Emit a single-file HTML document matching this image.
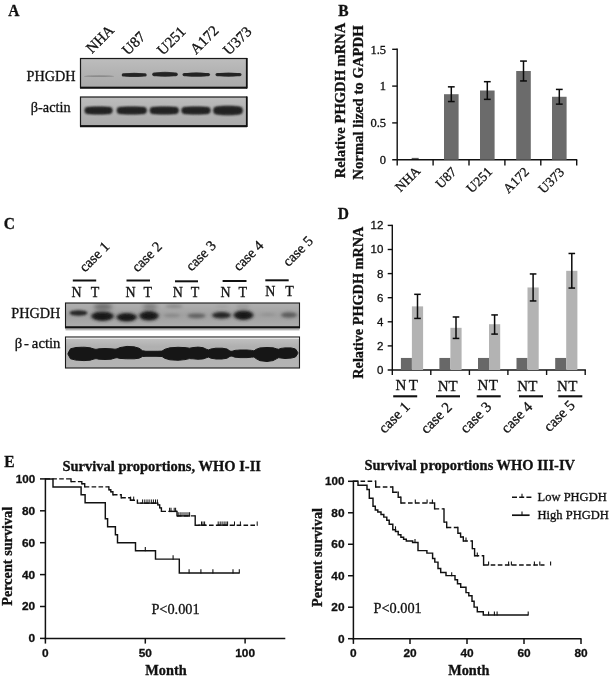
<!DOCTYPE html>
<html><head><meta charset="utf-8"><title>PHGDH figure</title>
<style>html,body{margin:0;padding:0;background:#fff}svg{display:block}.fs{font-family:"Liberation Serif", serif}.fa{font-family:"Liberation Sans", sans-serif}.b{font-weight:bold}text{fill:#111;stroke:#111;stroke-width:0.3px}</style></head><body>
<svg width="610" height="679" viewBox="0 0 610 679">
<defs>
<filter id="bl06" x="-20%" y="-60%" width="140%" height="220%"><feGaussianBlur stdDeviation="0.6"/></filter>
<filter id="bl09" x="-20%" y="-60%" width="140%" height="220%"><feGaussianBlur stdDeviation="0.9"/></filter>
<filter id="bl12" x="-20%" y="-60%" width="140%" height="220%"><feGaussianBlur stdDeviation="1.2"/></filter>
<filter id="bl16" x="-20%" y="-60%" width="140%" height="220%"><feGaussianBlur stdDeviation="1.6"/></filter>
<filter id="bl20" x="-20%" y="-60%" width="140%" height="220%"><feGaussianBlur stdDeviation="2.0"/></filter>
<clipPath id="cA1"><rect x="80.5" y="58.5" width="166" height="29"/></clipPath>
<clipPath id="cA2"><rect x="80.5" y="97" width="166" height="29"/></clipPath>
<clipPath id="cC1"><rect x="65.5" y="303" width="234" height="24.5"/></clipPath>
<clipPath id="cC2"><rect x="65.5" y="337" width="234" height="31"/></clipPath>
<linearGradient id="gA" x1="0" y1="0" x2="0" y2="1"><stop offset="0" stop-color="#bdbdbd"/><stop offset="0.5" stop-color="#b2b2b2"/><stop offset="1" stop-color="#aaaaaa"/></linearGradient>
<linearGradient id="gC1" x1="0" y1="0" x2="0" y2="1"><stop offset="0" stop-color="#b0b0b0"/><stop offset="0.5" stop-color="#a0a0a0"/><stop offset="1" stop-color="#adadad"/></linearGradient>
<linearGradient id="gC2" x1="0" y1="0" x2="0" y2="1"><stop offset="0" stop-color="#c4c4c4"/><stop offset="0.3" stop-color="#b0b0b0"/><stop offset="1" stop-color="#b4b4b4"/></linearGradient>
</defs>
<rect x="0" y="0" width="610" height="679" fill="#fff"/>
<text class="fs b" font-size="15.5" transform="translate(8.2 15.8) scale(1 1.13)">A</text>
<text class="fs b" font-size="15.5" transform="translate(338.2 16.0) scale(1 1.13)">B</text>
<text class="fs b" font-size="15.5" transform="translate(3.7 229.0) scale(1 1.13)">C</text>
<text class="fs b" font-size="15.5" transform="translate(337.7 218.8) scale(1 1.13)">D</text>
<text class="fs b" font-size="15.5" transform="translate(4.2 466.6) scale(1 1.13)">E</text>
<text class="fs" x="92" y="54" font-size="15" transform="rotate(-45 92 54)">NHA</text>
<text class="fs" x="128" y="56" font-size="15" transform="rotate(-45 128 56)">U87</text>
<text class="fs" x="163" y="56" font-size="15" transform="rotate(-45 163 56)">U251</text>
<text class="fs" x="196" y="55" font-size="15" transform="rotate(-45 196 55)">A172</text>
<text class="fs" x="229" y="56" font-size="15" transform="rotate(-45 229 56)">U373</text>
<text class="fs" x="26.6" y="80.7" font-size="14.4" textLength="49" lengthAdjust="spacingAndGlyphs">PHGDH</text>
<text class="fs" x="30.8" y="111.5" font-size="14.5" textLength="39.8" lengthAdjust="spacingAndGlyphs">β-actin</text>
<g clip-path="url(#cA1)">
<rect x="80.50" y="58.50" width="166.00" height="29.00" fill="url(#gA)"/>
<ellipse cx="99.00" cy="76.20" rx="15.00" ry="0.90" fill="#555" opacity="0.4" filter="url(#bl06)"/>
<rect x="121.70" y="73.35" width="25.00" height="3.10" rx="1.55" ry="1.55" fill="#2a2a2a" opacity="1.0" filter="url(#bl06)"/>
<ellipse cx="134.20" cy="74.90" rx="11.50" ry="2.15" fill="#242424" opacity="0.8" filter="url(#bl06)"/>
<rect x="152.25" y="72.45" width="25.50" height="3.70" rx="1.85" ry="1.85" fill="#2a2a2a" opacity="1.0" filter="url(#bl06)"/>
<ellipse cx="165.00" cy="74.30" rx="11.75" ry="2.45" fill="#242424" opacity="0.8" filter="url(#bl06)"/>
<rect x="182.55" y="72.95" width="27.50" height="3.30" rx="1.65" ry="1.65" fill="#2a2a2a" opacity="1.0" filter="url(#bl06)"/>
<ellipse cx="196.30" cy="74.60" rx="12.75" ry="2.25" fill="#242424" opacity="0.8" filter="url(#bl06)"/>
<rect x="215.50" y="73.05" width="26.00" height="3.10" rx="1.55" ry="1.55" fill="#2a2a2a" opacity="1.0" filter="url(#bl06)"/>
<ellipse cx="228.50" cy="74.60" rx="12.00" ry="2.15" fill="#242424" opacity="0.8" filter="url(#bl06)"/>
</g>
<rect x="80.5" y="58.5" width="166" height="29" fill="none" stroke="#1a1a1a" stroke-width="1.2"/>
<line x1="80" y1="87.8" x2="247" y2="87.8" stroke="#111" stroke-width="1.9"/>
<line x1="246.9" y1="58" x2="246.9" y2="88.5" stroke="#111" stroke-width="1.6"/>
<g clip-path="url(#cA2)">
<rect x="80.50" y="97.00" width="166.00" height="29.00" fill="url(#gA)"/>
<rect x="84.60" y="107.10" width="28.00" height="6.80" rx="3.40" ry="3.40" fill="#262626" opacity="1.0" filter="url(#bl09)"/>
<ellipse cx="98.60" cy="110.50" rx="13.00" ry="3.80" fill="#222" opacity="0.8" filter="url(#bl09)"/>
<rect x="116.80" y="107.10" width="30.00" height="6.80" rx="3.40" ry="3.40" fill="#262626" opacity="1.0" filter="url(#bl09)"/>
<ellipse cx="131.80" cy="110.50" rx="14.00" ry="3.80" fill="#222" opacity="0.8" filter="url(#bl09)"/>
<rect x="149.80" y="107.10" width="29.00" height="6.80" rx="3.40" ry="3.40" fill="#262626" opacity="1.0" filter="url(#bl09)"/>
<ellipse cx="164.30" cy="110.50" rx="13.50" ry="3.80" fill="#222" opacity="0.8" filter="url(#bl09)"/>
<rect x="181.50" y="107.10" width="29.00" height="6.80" rx="3.40" ry="3.40" fill="#262626" opacity="1.0" filter="url(#bl09)"/>
<ellipse cx="196.00" cy="110.50" rx="13.50" ry="3.80" fill="#222" opacity="0.8" filter="url(#bl09)"/>
<rect x="213.25" y="106.40" width="29.50" height="8.20" rx="4.10" ry="4.10" fill="#262626" opacity="1.0" filter="url(#bl09)"/>
<ellipse cx="228.00" cy="110.50" rx="13.75" ry="4.50" fill="#222" opacity="0.8" filter="url(#bl09)"/>
</g>
<rect x="80.5" y="97" width="166" height="29" fill="none" stroke="#1a1a1a" stroke-width="1.2"/>
<line x1="80" y1="126.3" x2="247" y2="126.3" stroke="#111" stroke-width="1.9"/>
<line x1="246.9" y1="96.5" x2="246.9" y2="127" stroke="#111" stroke-width="1.6"/>
<line x1="397.2" y1="48.599999999999994" x2="397.2" y2="165.5" stroke="#111" stroke-width="1.4"/>
<line x1="392.2" y1="159.7" x2="577.2" y2="159.7" stroke="#111" stroke-width="1.4"/>
<text class="fs" x="386" y="164.0" font-size="12.5" text-anchor="end">0</text>
<line x1="392.2" y1="122.89999999999999" x2="397.2" y2="122.89999999999999" stroke="#111" stroke-width="1.4"/>
<text class="fs" x="386" y="127.19999999999999" font-size="12.5" text-anchor="end">0.5</text>
<line x1="392.2" y1="86.1" x2="397.2" y2="86.1" stroke="#111" stroke-width="1.4"/>
<text class="fs" x="386" y="90.39999999999999" font-size="12.5" text-anchor="end">1</text>
<line x1="392.2" y1="49.3" x2="397.2" y2="49.3" stroke="#111" stroke-width="1.4"/>
<text class="fs" x="386" y="53.599999999999994" font-size="12.5" text-anchor="end">1.5</text>
<line x1="433.09999999999997" y1="159.7" x2="433.09999999999997" y2="165.5" stroke="#111" stroke-width="1.4"/>
<line x1="469.0" y1="159.7" x2="469.0" y2="165.5" stroke="#111" stroke-width="1.4"/>
<line x1="504.9" y1="159.7" x2="504.9" y2="165.5" stroke="#111" stroke-width="1.4"/>
<line x1="540.8" y1="159.7" x2="540.8" y2="165.5" stroke="#111" stroke-width="1.4"/>
<line x1="576.7" y1="159.7" x2="576.7" y2="165.5" stroke="#111" stroke-width="1.4"/>
<line x1="411.7" y1="158.39999999999998" x2="418.7" y2="158.39999999999998" stroke="#333" stroke-width="0.9"/>
<rect x="444.00" y="94.20" width="14.60" height="65.50" fill="#6b6b6b"/>
<line x1="451.3" y1="86.836" x2="451.3" y2="101.55599999999998" stroke="#0a0a0a" stroke-width="1.5"/>
<line x1="447.90000000000003" y1="86.836" x2="454.7" y2="86.836" stroke="#0a0a0a" stroke-width="1.5"/>
<line x1="447.90000000000003" y1="101.55599999999998" x2="454.7" y2="101.55599999999998" stroke="#0a0a0a" stroke-width="1.5"/>
<rect x="480.00" y="90.52" width="14.60" height="69.18" fill="#6b6b6b"/>
<line x1="487.3" y1="81.684" x2="487.3" y2="99.348" stroke="#0a0a0a" stroke-width="1.5"/>
<line x1="483.90000000000003" y1="81.684" x2="490.7" y2="81.684" stroke="#0a0a0a" stroke-width="1.5"/>
<line x1="483.90000000000003" y1="99.348" x2="490.7" y2="99.348" stroke="#0a0a0a" stroke-width="1.5"/>
<rect x="516.20" y="71.01" width="14.60" height="88.69" fill="#6b6b6b"/>
<line x1="523.5" y1="61.07599999999999" x2="523.5" y2="80.948" stroke="#0a0a0a" stroke-width="1.5"/>
<line x1="520.1" y1="61.07599999999999" x2="526.9" y2="61.07599999999999" stroke="#0a0a0a" stroke-width="1.5"/>
<line x1="520.1" y1="80.948" x2="526.9" y2="80.948" stroke="#0a0a0a" stroke-width="1.5"/>
<rect x="552.00" y="96.77" width="14.60" height="62.93" fill="#6b6b6b"/>
<line x1="559.3" y1="89.41199999999999" x2="559.3" y2="104.13199999999999" stroke="#0a0a0a" stroke-width="1.5"/>
<line x1="555.9" y1="89.41199999999999" x2="562.6999999999999" y2="89.41199999999999" stroke="#0a0a0a" stroke-width="1.5"/>
<line x1="555.9" y1="104.13199999999999" x2="562.6999999999999" y2="104.13199999999999" stroke="#0a0a0a" stroke-width="1.5"/>
<text class="fs" x="421.2" y="171.8" font-size="13.5" text-anchor="end" transform="rotate(-45 421.2 171.8)">NHA</text>
<text class="fs" x="457.4" y="172.8" font-size="13.5" text-anchor="end" transform="rotate(-45 457.4 172.8)">U87</text>
<text class="fs" x="493.0" y="172.6" font-size="13.5" text-anchor="end" transform="rotate(-45 493.0 172.6)">U251</text>
<text class="fs" x="529.8" y="172.8" font-size="13.5" text-anchor="end" transform="rotate(-45 529.8 172.8)">A172</text>
<text class="fs" x="565.0" y="173.0" font-size="13.5" text-anchor="end" transform="rotate(-45 565.0 173.0)">U373</text>
<text class="fs b" x="345.4" y="100.4" font-size="14.8" text-anchor="middle" transform="rotate(-90 345.4 100.4)" textLength="155.6" lengthAdjust="spacingAndGlyphs">Relative PHGDH mRNA</text>
<text class="fs b" x="363.0" y="102.5" font-size="14.8" text-anchor="middle" transform="rotate(-90 363.0 102.5)" textLength="154.3" lengthAdjust="spacingAndGlyphs">Normal lized to GAPDH</text>
<text class="fs" x="85" y="272.8" font-size="14.5" transform="rotate(-45 85 272.8)">case 1</text>
<text class="fs" x="137.5" y="272.8" font-size="14.5" transform="rotate(-45 137.5 272.8)">case 2</text>
<text class="fs" x="191.5" y="271.8" font-size="14.5" transform="rotate(-45 191.5 271.8)">case 3</text>
<text class="fs" x="239" y="271.8" font-size="14.5" transform="rotate(-45 239 271.8)">case 4</text>
<text class="fs" x="288.5" y="267.3" font-size="14.5" transform="rotate(-45 288.5 267.3)">case 5</text>
<line x1="72.8" y1="280.5" x2="96.2" y2="280.5" stroke="#111" stroke-width="2.0"/>
<line x1="126.5" y1="280.5" x2="150" y2="280.5" stroke="#111" stroke-width="2.0"/>
<line x1="175" y1="281.3" x2="198" y2="281.3" stroke="#111" stroke-width="2.0"/>
<line x1="222.6" y1="281" x2="246.5" y2="281" stroke="#111" stroke-width="2.0"/>
<line x1="265.3" y1="280.3" x2="288.7" y2="280.3" stroke="#111" stroke-width="2.0"/>
<text class="fs" x="71.5" y="296.8" font-size="14">N</text>
<text class="fs" x="90.8" y="296.8" font-size="14">T</text>
<text class="fs" x="125.5" y="296.8" font-size="14">N</text>
<text class="fs" x="143.5" y="296.8" font-size="14">T</text>
<text class="fs" x="172.8" y="296.8" font-size="14">N</text>
<text class="fs" x="190.7" y="296.8" font-size="14">T</text>
<text class="fs" x="220.5" y="296.8" font-size="14">N</text>
<text class="fs" x="238.5" y="296.8" font-size="14">T</text>
<text class="fs" x="265.2" y="295.6" font-size="14">N</text>
<text class="fs" x="285.3" y="295.6" font-size="14">T</text>
<text class="fs" x="11.2" y="317.8" font-size="14.3" textLength="49.2" lengthAdjust="spacingAndGlyphs">PHGDH</text>
<text class="fs" x="14.7" y="348" font-size="14.7">β<tspan dx="1.7">-</tspan><tspan dx="-0.6"> actin</tspan></text>
<g clip-path="url(#cC1)">
<rect x="65.50" y="303.00" width="234.00" height="24.50" fill="url(#gC1)"/>
<ellipse cx="103.00" cy="306.80" rx="9.50" ry="3.00" fill="#444" opacity="0.65" filter="url(#bl20)"/>
<ellipse cx="150.00" cy="306.80" rx="7.50" ry="3.00" fill="#555" opacity="0.55" filter="url(#bl20)"/>
<ellipse cx="174.00" cy="306.30" rx="8.50" ry="1.70" fill="#666" opacity="0.5" filter="url(#bl16)"/>
<ellipse cx="222.00" cy="306.50" rx="7.00" ry="1.50" fill="#888" opacity="0.3" filter="url(#bl16)"/>
<ellipse cx="243.00" cy="306.50" rx="7.00" ry="2.00" fill="#777" opacity="0.35" filter="url(#bl16)"/>
<ellipse cx="78.50" cy="313.00" rx="9.00" ry="2.70" fill="#262626" opacity="1.0" filter="url(#bl12)"/>
<ellipse cx="102.50" cy="316.20" rx="11.50" ry="4.80" fill="#202020" opacity="1.0" filter="url(#bl16)"/>
<ellipse cx="102.50" cy="316.40" rx="8.00" ry="2.50" fill="#181818" opacity="1.0" filter="url(#bl12)"/>
<ellipse cx="126.70" cy="317.30" rx="10.50" ry="4.20" fill="#202020" opacity="1.0" filter="url(#bl16)"/>
<ellipse cx="126.70" cy="317.40" rx="7.00" ry="2.20" fill="#181818" opacity="1.0" filter="url(#bl12)"/>
<ellipse cx="149.00" cy="315.80" rx="10.00" ry="4.80" fill="#202020" opacity="1.0" filter="url(#bl16)"/>
<ellipse cx="149.00" cy="316.00" rx="6.50" ry="2.50" fill="#181818" opacity="1.0" filter="url(#bl12)"/>
<ellipse cx="172.00" cy="315.50" rx="8.00" ry="1.80" fill="#707070" opacity="0.5" filter="url(#bl16)"/>
<ellipse cx="196.50" cy="315.80" rx="9.00" ry="2.40" fill="#505050" opacity="0.8" filter="url(#bl16)"/>
<ellipse cx="221.50" cy="315.20" rx="9.50" ry="3.20" fill="#202020" opacity="1.0" filter="url(#bl16)"/>
<ellipse cx="243.50" cy="315.20" rx="10.00" ry="4.80" fill="#202020" opacity="1.0" filter="url(#bl16)"/>
<ellipse cx="243.50" cy="315.40" rx="6.50" ry="2.50" fill="#181818" opacity="1.0" filter="url(#bl12)"/>
<ellipse cx="268.00" cy="314.50" rx="7.50" ry="1.50" fill="#808080" opacity="0.45" filter="url(#bl16)"/>
<ellipse cx="289.00" cy="315.00" rx="8.00" ry="2.80" fill="#505050" opacity="0.85" filter="url(#bl16)"/>
</g>
<rect x="65.5" y="303" width="234" height="24.5" fill="none" stroke="#1a1a1a" stroke-width="1.1"/>
<line x1="65" y1="327.3" x2="300" y2="327.3" stroke="#111" stroke-width="2.2"/>
<line x1="65.5" y1="329.8" x2="299.5" y2="329.8" stroke="#8a8a8a" stroke-width="0.9"/>
<g clip-path="url(#cC2)">
<rect x="65.50" y="337.00" width="234.00" height="31.00" fill="url(#gC2)"/>
<polygon points="68.0,353.3 70.5,348.8 76.0,347.5 84.0,347.2 90.0,347.8 94.0,349.0 96.0,349.4 99.0,348.8 105.0,348.5 111.0,348.8 115.0,349.2 117.0,348.9 120.0,347.6 127.0,346.4 134.0,346.8 139.0,348.2 142.5,350.7 146.0,351.3 156.0,351.3 162.0,351.1 165.0,349.2 170.0,347.8 178.0,347.3 185.0,347.6 189.5,348.2 193.0,347.6 198.0,347.1 203.0,347.7 206.5,349.3 208.5,349.9 211.0,349.0 216.0,348.2 222.0,348.2 227.0,349.0 230.0,351.1 232.0,351.3 235.0,350.4 240.0,350.0 247.0,350.0 251.5,350.4 254.0,350.9 256.0,349.4 260.0,347.9 267.0,347.5 273.0,347.8 276.5,348.8 278.5,349.3 281.0,348.4 285.0,347.9 291.0,347.9 295.5,349.0 297.8,352.5 297.8,353.5 295.5,357.0 291.0,358.1 285.0,358.5 281.0,358.0 278.5,357.7 276.5,358.8 273.0,360.6 267.0,361.5 260.0,360.7 256.0,358.6 254.0,356.9 251.5,357.2 247.0,357.6 240.0,357.6 235.0,357.2 232.0,356.1 230.0,356.3 227.0,358.2 222.0,359.0 216.0,359.0 211.0,358.2 208.5,357.1 206.5,357.7 203.0,358.9 198.0,359.3 193.0,358.8 189.5,358.6 185.0,359.6 178.0,360.3 170.0,359.8 165.0,358.4 162.0,356.5 156.0,356.3 146.0,356.3 142.5,356.5 139.0,358.2 134.0,358.8 127.0,358.8 120.0,358.4 117.0,357.7 115.0,358.0 111.0,359.2 105.0,359.5 99.0,359.2 96.0,358.6 94.0,359.0 90.0,360.2 84.0,360.6 76.0,360.1 70.5,358.8 68.0,354.3" fill="#191919" stroke="#191919" stroke-width="1" stroke-linejoin="round" filter="url(#bl06)"/>
</g>
<rect x="65.5" y="337" width="234" height="31" fill="none" stroke="#1a1a1a" stroke-width="1.1"/>
<line x1="66" y1="338.3" x2="299" y2="338.3" stroke="#e4e4e4" stroke-width="1.2"/>
<line x1="392.3" y1="224.70000000000002" x2="392.3" y2="375.0" stroke="#111" stroke-width="1.4"/>
<line x1="387.7" y1="370.0" x2="585.9000000000001" y2="370.0" stroke="#111" stroke-width="1.4"/>
<text class="fa" x="383.3" y="373.9" font-size="11.5" text-anchor="end">0</text>
<line x1="387.7" y1="345.9" x2="392.3" y2="345.9" stroke="#111" stroke-width="1.4"/>
<text class="fa" x="383.3" y="349.79999999999995" font-size="11.5" text-anchor="end">2</text>
<line x1="387.7" y1="321.8" x2="392.3" y2="321.8" stroke="#111" stroke-width="1.4"/>
<text class="fa" x="383.3" y="325.7" font-size="11.5" text-anchor="end">4</text>
<line x1="387.7" y1="297.7" x2="392.3" y2="297.7" stroke="#111" stroke-width="1.4"/>
<text class="fa" x="383.3" y="301.59999999999997" font-size="11.5" text-anchor="end">6</text>
<line x1="387.7" y1="273.6" x2="392.3" y2="273.6" stroke="#111" stroke-width="1.4"/>
<text class="fa" x="383.3" y="277.5" font-size="11.5" text-anchor="end">8</text>
<line x1="387.7" y1="249.5" x2="392.3" y2="249.5" stroke="#111" stroke-width="1.4"/>
<text class="fa" x="383.3" y="253.4" font-size="11.5" text-anchor="end">10</text>
<line x1="387.7" y1="225.39999999999998" x2="392.3" y2="225.39999999999998" stroke="#111" stroke-width="1.4"/>
<text class="fa" x="383.3" y="229.29999999999998" font-size="11.5" text-anchor="end">12</text>
<line x1="430.8" y1="370.0" x2="430.8" y2="375.0" stroke="#111" stroke-width="1.4"/>
<line x1="469.4" y1="370.0" x2="469.4" y2="375.0" stroke="#111" stroke-width="1.4"/>
<line x1="507.9" y1="370.0" x2="507.9" y2="375.0" stroke="#111" stroke-width="1.4"/>
<line x1="546.6" y1="370.0" x2="546.6" y2="375.0" stroke="#111" stroke-width="1.4"/>
<line x1="585.2" y1="370.0" x2="585.2" y2="375.0" stroke="#111" stroke-width="1.4"/>
<rect x="400.90" y="357.95" width="11.00" height="12.05" fill="#686868"/>
<rect x="411.90" y="306.38" width="11.20" height="63.62" fill="#b3b3b3"/>
<line x1="417.50000000000006" y1="294.326" x2="417.50000000000006" y2="318.426" stroke="#0a0a0a" stroke-width="1.5"/>
<line x1="414.20000000000005" y1="294.326" x2="420.80000000000007" y2="294.326" stroke="#0a0a0a" stroke-width="1.5"/>
<line x1="414.20000000000005" y1="318.426" x2="420.80000000000007" y2="318.426" stroke="#0a0a0a" stroke-width="1.5"/>
<rect x="439.40" y="357.95" width="11.00" height="12.05" fill="#686868"/>
<rect x="450.40" y="327.82" width="11.20" height="42.18" fill="#b3b3b3"/>
<line x1="456.00000000000006" y1="316.98" x2="456.00000000000006" y2="338.429" stroke="#0a0a0a" stroke-width="1.5"/>
<line x1="452.70000000000005" y1="316.98" x2="459.30000000000007" y2="316.98" stroke="#0a0a0a" stroke-width="1.5"/>
<line x1="452.70000000000005" y1="338.429" x2="459.30000000000007" y2="338.429" stroke="#0a0a0a" stroke-width="1.5"/>
<rect x="478.00" y="357.95" width="11.00" height="12.05" fill="#686868"/>
<rect x="489.00" y="324.21" width="11.20" height="45.79" fill="#b3b3b3"/>
<line x1="494.6" y1="314.93149999999997" x2="494.6" y2="334.091" stroke="#0a0a0a" stroke-width="1.5"/>
<line x1="491.3" y1="314.93149999999997" x2="497.90000000000003" y2="314.93149999999997" stroke="#0a0a0a" stroke-width="1.5"/>
<line x1="491.3" y1="334.091" x2="497.90000000000003" y2="334.091" stroke="#0a0a0a" stroke-width="1.5"/>
<rect x="516.50" y="357.95" width="11.00" height="12.05" fill="#686868"/>
<rect x="527.50" y="287.46" width="11.20" height="82.54" fill="#b3b3b3"/>
<line x1="533.1" y1="273.9615" x2="533.1" y2="300.9535" stroke="#0a0a0a" stroke-width="1.5"/>
<line x1="529.8000000000001" y1="273.9615" x2="536.4" y2="273.9615" stroke="#0a0a0a" stroke-width="1.5"/>
<line x1="529.8000000000001" y1="300.9535" x2="536.4" y2="300.9535" stroke="#0a0a0a" stroke-width="1.5"/>
<rect x="555.20" y="357.95" width="11.00" height="12.05" fill="#686868"/>
<rect x="566.20" y="270.83" width="11.20" height="99.17" fill="#b3b3b3"/>
<line x1="571.8000000000001" y1="253.4765" x2="571.8000000000001" y2="288.06" stroke="#0a0a0a" stroke-width="1.5"/>
<line x1="568.5000000000001" y1="253.4765" x2="575.1" y2="253.4765" stroke="#0a0a0a" stroke-width="1.5"/>
<line x1="568.5000000000001" y1="288.06" x2="575.1" y2="288.06" stroke="#0a0a0a" stroke-width="1.5"/>
<text class="fs" x="395.5" y="390.2" font-size="15">N</text>
<text class="fs" x="408.8" y="390.2" font-size="15">T</text>
<text class="fs" x="437.7" y="391" font-size="15">N</text>
<text class="fs" x="448.6" y="391" font-size="15">T</text>
<text class="fs" x="477.5" y="390.2" font-size="15">N</text>
<text class="fs" x="488.8" y="390.2" font-size="15">T</text>
<text class="fs" x="517.3" y="391" font-size="15">N</text>
<text class="fs" x="528.3" y="391" font-size="15">T</text>
<text class="fs" x="557" y="390.6" font-size="15">N</text>
<text class="fs" x="568.3" y="390.6" font-size="15">T</text>
<line x1="393.2" y1="396.3" x2="417.2" y2="396.3" stroke="#111" stroke-width="2.1"/>
<line x1="436" y1="396.3" x2="460" y2="396.3" stroke="#111" stroke-width="2.1"/>
<line x1="476.7" y1="396.3" x2="500.7" y2="396.3" stroke="#111" stroke-width="2.1"/>
<line x1="519" y1="396.3" x2="543" y2="396.3" stroke="#111" stroke-width="2.1"/>
<line x1="558.3" y1="396.3" x2="582.3" y2="396.3" stroke="#111" stroke-width="2.1"/>
<text class="fs" x="410.8" y="407.7" font-size="15" text-anchor="end" transform="rotate(-45 410.8 407.7)">case 1</text>
<text class="fs" x="452.8" y="408.2" font-size="15" text-anchor="end" transform="rotate(-45 452.8 408.2)">case 2</text>
<text class="fs" x="492.3" y="407.7" font-size="15" text-anchor="end" transform="rotate(-45 492.3 407.7)">case 3</text>
<text class="fs" x="533.3" y="407.7" font-size="15" text-anchor="end" transform="rotate(-45 533.3 407.7)">case 4</text>
<text class="fs" x="575.8" y="406.2" font-size="15" text-anchor="end" transform="rotate(-45 575.8 406.2)">case 5</text>
<text class="fs b" x="362.6" y="302.7" font-size="14.5" text-anchor="middle" transform="rotate(-90 362.6 302.7)" textLength="152" lengthAdjust="spacingAndGlyphs">Relative PHGDH mRNA</text>
<line x1="45.4" y1="478.15" x2="45.4" y2="639.15" stroke="#111" stroke-width="1.5"/>
<line x1="44.65" y1="638.4" x2="285.3" y2="638.4" stroke="#111" stroke-width="1.5"/>
<line x1="40.0" y1="638.4" x2="45.4" y2="638.4" stroke="#111" stroke-width="1.5"/>
<text class="fa b" x="35.2" y="642.3" font-size="11" text-anchor="end" textLength="6.6" lengthAdjust="spacingAndGlyphs">0</text>
<line x1="40.0" y1="606.5" x2="45.4" y2="606.5" stroke="#111" stroke-width="1.5"/>
<text class="fa b" x="35.2" y="610.4" font-size="11" text-anchor="end" textLength="13.2" lengthAdjust="spacingAndGlyphs">20</text>
<line x1="40.0" y1="574.6" x2="45.4" y2="574.6" stroke="#111" stroke-width="1.5"/>
<text class="fa b" x="35.2" y="578.5" font-size="11" text-anchor="end" textLength="13.2" lengthAdjust="spacingAndGlyphs">40</text>
<line x1="40.0" y1="542.6999999999999" x2="45.4" y2="542.6999999999999" stroke="#111" stroke-width="1.5"/>
<text class="fa b" x="35.2" y="546.5999999999999" font-size="11" text-anchor="end" textLength="13.2" lengthAdjust="spacingAndGlyphs">60</text>
<line x1="40.0" y1="510.79999999999995" x2="45.4" y2="510.79999999999995" stroke="#111" stroke-width="1.5"/>
<text class="fa b" x="35.2" y="514.6999999999999" font-size="11" text-anchor="end" textLength="13.2" lengthAdjust="spacingAndGlyphs">80</text>
<line x1="40.0" y1="478.9" x2="45.4" y2="478.9" stroke="#111" stroke-width="1.5"/>
<text class="fa b" x="35.2" y="482.79999999999995" font-size="11" text-anchor="end" textLength="19.4" lengthAdjust="spacingAndGlyphs">100</text>
<line x1="45.4" y1="638.4" x2="45.4" y2="643.6" stroke="#111" stroke-width="1.5"/>
<text class="fa b" x="45.4" y="656.6" font-size="11" text-anchor="middle" textLength="6.6" lengthAdjust="spacingAndGlyphs">0</text>
<line x1="145.3" y1="638.4" x2="145.3" y2="643.6" stroke="#111" stroke-width="1.5"/>
<text class="fa b" x="145.3" y="656.6" font-size="11" text-anchor="middle" textLength="13.2" lengthAdjust="spacingAndGlyphs">50</text>
<line x1="245.1" y1="638.4" x2="245.1" y2="643.6" stroke="#111" stroke-width="1.5"/>
<text class="fa b" x="245.1" y="656.6" font-size="11" text-anchor="middle" textLength="19.8" lengthAdjust="spacingAndGlyphs">100</text>
<text class="fs b" x="12.0" y="556.3" font-size="14" text-anchor="middle" transform="rotate(-90 12.0 556.3)" textLength="99" lengthAdjust="spacingAndGlyphs">Percent survival</text>
<text class="fs b" x="62.4" y="471" font-size="14.5" textLength="198.6" lengthAdjust="spacingAndGlyphs">Survival proportions, WHO I-II</text>
<text class="fs b" x="145.3" y="674.8" font-size="14.2" textLength="41.3" lengthAdjust="spacingAndGlyphs">Month</text>
<path d="M45.4 478.9H53.0V486.9H81.1V494.8H85.1V502.8H105.3V518.8H107.6V526.8H115.4V534.7H117.5V542.7H135.5V550.7H155.5V559.1H179.3V573.0H239.4" fill="none" stroke="#111" stroke-width="1.45"/>
<line x1="145.3" y1="551.275" x2="145.3" y2="546.875" stroke="#111" stroke-width="1.1"/>
<line x1="173.1" y1="559.7285" x2="173.1" y2="555.3285000000001" stroke="#111" stroke-width="1.1"/>
<line x1="189.1" y1="573.605" x2="189.1" y2="569.205" stroke="#111" stroke-width="1.1"/>
<line x1="200.9" y1="573.605" x2="200.9" y2="569.205" stroke="#111" stroke-width="1.1"/>
<line x1="212.9" y1="573.605" x2="212.9" y2="569.205" stroke="#111" stroke-width="1.1"/>
<line x1="233" y1="573.605" x2="233" y2="569.205" stroke="#111" stroke-width="1.1"/>
<line x1="239.3" y1="573.605" x2="239.3" y2="569.205" stroke="#111" stroke-width="1.1"/>
<path d="M45.4 478.9H71.0M71.0 481.6H81.8M81.8 483.7H84.7M84.7 486.9H108.9M108.9 489.7H110.8M110.8 491.8H112.9M112.9 494.8H121.2M121.2 497.7H130.4M130.4 500.3H137.4M137.4 503.1H157.8M157.8 504.9H159.7M159.7 507.9H161.4M161.4 511.4H177.0M177.0 515.9H195.2M195.2 525.2H257.5" fill="none" stroke="#111" stroke-width="1.4" stroke-dasharray="4.6 2.3"/>
<path d="M71.0 478.2V482.3M81.8 480.9V484.4M84.7 483.0V487.6M108.9 486.2V490.4M110.8 489.0V492.5M112.9 491.1V495.5M121.2 494.1V498.4M130.4 497.0V501.0M137.4 499.6V503.8M157.8 502.4V505.6M159.7 504.2V508.6M161.4 507.2V512.1M177.0 510.7V516.6M195.2 515.2V525.9" fill="none" stroke="#111" stroke-width="1.4"/>
<line x1="130.6" y1="500.87300000000005" x2="130.6" y2="496.57300000000004" stroke="#111" stroke-width="1.0"/>
<line x1="133.7" y1="500.87300000000005" x2="133.7" y2="496.57300000000004" stroke="#111" stroke-width="1.0"/>
<line x1="142.6" y1="503.744" x2="142.6" y2="499.444" stroke="#111" stroke-width="1.0"/>
<line x1="144.8" y1="503.744" x2="144.8" y2="499.444" stroke="#111" stroke-width="1.0"/>
<line x1="147.0" y1="503.744" x2="147.0" y2="499.444" stroke="#111" stroke-width="1.0"/>
<line x1="149.1" y1="503.744" x2="149.1" y2="499.444" stroke="#111" stroke-width="1.0"/>
<line x1="151.3" y1="503.744" x2="151.3" y2="499.444" stroke="#111" stroke-width="1.0"/>
<line x1="153.4" y1="503.744" x2="153.4" y2="499.444" stroke="#111" stroke-width="1.0"/>
<line x1="155.5" y1="503.744" x2="155.5" y2="499.444" stroke="#111" stroke-width="1.0"/>
<line x1="157.4" y1="503.744" x2="157.4" y2="499.444" stroke="#111" stroke-width="1.0"/>
<line x1="169.6" y1="512.038" x2="169.6" y2="507.738" stroke="#111" stroke-width="1.0"/>
<line x1="171.0" y1="512.038" x2="171.0" y2="507.738" stroke="#111" stroke-width="1.0"/>
<line x1="174.2" y1="512.038" x2="174.2" y2="507.738" stroke="#111" stroke-width="1.0"/>
<line x1="175.6" y1="512.038" x2="175.6" y2="507.738" stroke="#111" stroke-width="1.0"/>
<line x1="178.2" y1="516.504" x2="178.2" y2="512.204" stroke="#111" stroke-width="1.0"/>
<line x1="180.1" y1="516.504" x2="180.1" y2="512.204" stroke="#111" stroke-width="1.0"/>
<line x1="182" y1="516.504" x2="182" y2="512.204" stroke="#111" stroke-width="1.0"/>
<line x1="184" y1="516.504" x2="184" y2="512.204" stroke="#111" stroke-width="1.0"/>
<line x1="186" y1="516.504" x2="186" y2="512.204" stroke="#111" stroke-width="1.0"/>
<line x1="188" y1="516.504" x2="188" y2="512.204" stroke="#111" stroke-width="1.0"/>
<line x1="189.6" y1="516.504" x2="189.6" y2="512.204" stroke="#111" stroke-width="1.0"/>
<line x1="201.5" y1="525.755" x2="201.5" y2="521.4549999999999" stroke="#111" stroke-width="1.0"/>
<line x1="203" y1="525.755" x2="203" y2="521.4549999999999" stroke="#111" stroke-width="1.0"/>
<line x1="204.6" y1="525.755" x2="204.6" y2="521.4549999999999" stroke="#111" stroke-width="1.0"/>
<line x1="218.2" y1="525.755" x2="218.2" y2="521.4549999999999" stroke="#111" stroke-width="1.0"/>
<line x1="220.2" y1="525.755" x2="220.2" y2="521.4549999999999" stroke="#111" stroke-width="1.0"/>
<line x1="222.1" y1="525.755" x2="222.1" y2="521.4549999999999" stroke="#111" stroke-width="1.0"/>
<line x1="224.1" y1="525.755" x2="224.1" y2="521.4549999999999" stroke="#111" stroke-width="1.0"/>
<line x1="226" y1="525.755" x2="226" y2="521.4549999999999" stroke="#111" stroke-width="1.0"/>
<line x1="227.6" y1="525.755" x2="227.6" y2="521.4549999999999" stroke="#111" stroke-width="1.0"/>
<line x1="234.5" y1="525.755" x2="234.5" y2="521.4549999999999" stroke="#111" stroke-width="1.0"/>
<line x1="240.4" y1="525.755" x2="240.4" y2="521.4549999999999" stroke="#111" stroke-width="1.0"/>
<line x1="257.2" y1="525.755" x2="257.2" y2="521.4549999999999" stroke="#111" stroke-width="1.0"/>
<line x1="130.4" y1="500.273" x2="134" y2="500.273" stroke="#111" stroke-width="1.3"/>
<line x1="140.2" y1="503.144" x2="157.8" y2="503.144" stroke="#111" stroke-width="1.3"/>
<line x1="169" y1="511.438" x2="177" y2="511.438" stroke="#111" stroke-width="1.3"/>
<line x1="177.0" y1="515.904" x2="190" y2="515.904" stroke="#111" stroke-width="1.3"/>
<line x1="198.5" y1="525.155" x2="206" y2="525.155" stroke="#111" stroke-width="1.3"/>
<line x1="217.5" y1="525.155" x2="228" y2="525.155" stroke="#111" stroke-width="1.3"/>
<text class="fs" x="151.4" y="614.4" font-size="14.3">P&lt;0.001</text>
<line x1="353.4" y1="480.55" x2="353.4" y2="639.45" stroke="#111" stroke-width="1.5"/>
<line x1="352.65" y1="638.7" x2="581.5" y2="638.7" stroke="#111" stroke-width="1.5"/>
<line x1="348.0" y1="638.7" x2="353.4" y2="638.7" stroke="#111" stroke-width="1.5"/>
<text class="fa b" x="344.5" y="642.6" font-size="11" text-anchor="end" textLength="6.6" lengthAdjust="spacingAndGlyphs">0</text>
<line x1="348.0" y1="607.22" x2="353.4" y2="607.22" stroke="#111" stroke-width="1.5"/>
<text class="fa b" x="344.5" y="611.12" font-size="11" text-anchor="end" textLength="13.2" lengthAdjust="spacingAndGlyphs">20</text>
<line x1="348.0" y1="575.74" x2="353.4" y2="575.74" stroke="#111" stroke-width="1.5"/>
<text class="fa b" x="344.5" y="579.64" font-size="11" text-anchor="end" textLength="13.2" lengthAdjust="spacingAndGlyphs">40</text>
<line x1="348.0" y1="544.26" x2="353.4" y2="544.26" stroke="#111" stroke-width="1.5"/>
<text class="fa b" x="344.5" y="548.16" font-size="11" text-anchor="end" textLength="13.2" lengthAdjust="spacingAndGlyphs">60</text>
<line x1="348.0" y1="512.78" x2="353.4" y2="512.78" stroke="#111" stroke-width="1.5"/>
<text class="fa b" x="344.5" y="516.68" font-size="11" text-anchor="end" textLength="13.2" lengthAdjust="spacingAndGlyphs">80</text>
<line x1="348.0" y1="481.3" x2="353.4" y2="481.3" stroke="#111" stroke-width="1.5"/>
<text class="fa b" x="344.5" y="485.2" font-size="11" text-anchor="end" textLength="19.4" lengthAdjust="spacingAndGlyphs">100</text>
<line x1="353.4" y1="638.7" x2="353.4" y2="643.9000000000001" stroke="#111" stroke-width="1.5"/>
<text class="fa b" x="353.4" y="656.6" font-size="11" text-anchor="middle" textLength="6.6" lengthAdjust="spacingAndGlyphs">0</text>
<line x1="410" y1="638.7" x2="410" y2="643.9000000000001" stroke="#111" stroke-width="1.5"/>
<text class="fa b" x="410" y="656.6" font-size="11" text-anchor="middle" textLength="13.2" lengthAdjust="spacingAndGlyphs">20</text>
<line x1="467" y1="638.7" x2="467" y2="643.9000000000001" stroke="#111" stroke-width="1.5"/>
<text class="fa b" x="467" y="656.6" font-size="11" text-anchor="middle" textLength="13.2" lengthAdjust="spacingAndGlyphs">40</text>
<line x1="524" y1="638.7" x2="524" y2="643.9000000000001" stroke="#111" stroke-width="1.5"/>
<text class="fa b" x="524" y="656.6" font-size="11" text-anchor="middle" textLength="13.2" lengthAdjust="spacingAndGlyphs">60</text>
<line x1="581" y1="638.7" x2="581" y2="643.9000000000001" stroke="#111" stroke-width="1.5"/>
<text class="fa b" x="581" y="656.6" font-size="11" text-anchor="middle" textLength="13.2" lengthAdjust="spacingAndGlyphs">80</text>
<text class="fs b" x="321.6" y="557.5" font-size="14" text-anchor="middle" transform="rotate(-90 321.6 557.5)" textLength="99" lengthAdjust="spacingAndGlyphs">Percent survival</text>
<text class="fs b" x="364.5" y="470.2" font-size="14.5" textLength="210.5" lengthAdjust="spacingAndGlyphs">Survival proportions WHO III-IV</text>
<text class="fs b" x="448.2" y="674.8" font-size="14.2" textLength="41.3" lengthAdjust="spacingAndGlyphs">Month</text>
<path d="M353.4 481.3H358.0V485.2H367.0V489.5H369.3V498.2H373.0V506.3H375.3V509.9H377.8V512.0H381.0V514.4H383.8V517.1H386.8V520.3H389.2V524.3H392.8V529.7H395.5V531.5H398.2V534.8H400.9V537.3H403.6V539.3H406.3V540.9H412.6V542.5H418.0V550.6H426.9V553.1H432.6V558.5H434.8V562.1H438.0V568.4H440.7V572.4H446.0V575.6H455.0V579.8H457.5V583.7H460.7V587.3H466.0V592.6H468.8V595.8H472.0V601.2H474.1V607.1H477.3V611.8H483.3V615.0H528.3" fill="none" stroke="#111" stroke-width="1.45"/>
<line x1="395.5" y1="530.3000000000001" x2="395.5" y2="526.3000000000001" stroke="#111" stroke-width="1.1"/>
<line x1="415" y1="543.1" x2="415" y2="539.1" stroke="#111" stroke-width="1.1"/>
<line x1="451.7" y1="576.2" x2="451.7" y2="572.2" stroke="#111" stroke-width="1.1"/>
<line x1="488.6" y1="615.6" x2="488.6" y2="611.6" stroke="#111" stroke-width="1.1"/>
<line x1="494.4" y1="615.6" x2="494.4" y2="611.6" stroke="#111" stroke-width="1.1"/>
<line x1="497.1" y1="615.6" x2="497.1" y2="611.6" stroke="#111" stroke-width="1.1"/>
<line x1="528.2" y1="615.6" x2="528.2" y2="611.6" stroke="#111" stroke-width="1.1"/>
<path d="M353.4 481.3H375.7M375.7 487.0H392.8M392.8 492.2H398.2M398.2 497.2H400.9M400.9 503.0H434.6M434.6 508.9H444.0M444.0 522.1H446.7M446.7 527.5H457.9M457.9 533.3H460.6M460.6 537.0H463.3M463.3 541.0H472.3M472.3 548.6H474.6M474.6 555.8H483.6M483.6 565.0H544.5" fill="none" stroke="#111" stroke-width="1.4" stroke-dasharray="4.6 2.5"/>
<path d="M375.7 480.6V487.7M392.8 486.3V492.9M398.2 491.5V497.9M400.9 496.5V503.7M434.6 502.3V509.6M444.0 508.2V522.8M446.7 521.4V528.2M457.9 526.8V534.0M460.6 532.6V537.7M463.3 536.3V541.7M472.3 540.3V549.3M474.6 547.9V556.5M483.6 555.1V565.7" fill="none" stroke="#111" stroke-width="1.4"/>
<line x1="415.3" y1="503.6" x2="415.3" y2="499.6" stroke="#111" stroke-width="1.1"/>
<line x1="427.1" y1="503.6" x2="427.1" y2="499.6" stroke="#111" stroke-width="1.1"/>
<line x1="432.4" y1="503.6" x2="432.4" y2="499.6" stroke="#111" stroke-width="1.1"/>
<line x1="466" y1="541.6" x2="466" y2="537.6" stroke="#111" stroke-width="1.1"/>
<line x1="477.3" y1="556.4" x2="477.3" y2="552.4" stroke="#111" stroke-width="1.1"/>
<line x1="488.6" y1="565.6" x2="488.6" y2="561.6" stroke="#111" stroke-width="1.1"/>
<line x1="508.6" y1="565.6" x2="508.6" y2="561.6" stroke="#111" stroke-width="1.1"/>
<line x1="511.4" y1="565.6" x2="511.4" y2="561.6" stroke="#111" stroke-width="1.1"/>
<line x1="534.4" y1="565.6" x2="534.4" y2="561.6" stroke="#111" stroke-width="1.1"/>
<line x1="539.8" y1="565.6" x2="539.8" y2="561.6" stroke="#111" stroke-width="1.1"/>
<line x1="550.6" y1="565.6" x2="550.6" y2="561.6" stroke="#111" stroke-width="1.1"/>
<text class="fs" x="373.5" y="612.6" font-size="14.3">P&lt;0.001</text>
<line x1="512" y1="497.3" x2="532.2" y2="497.3" stroke="#111" stroke-width="1.5" stroke-dasharray="5 2.2"/>
<line x1="522" y1="497.8" x2="522" y2="493.8" stroke="#111" stroke-width="1.1"/>
<line x1="512" y1="515.2" x2="529.6" y2="515.2" stroke="#111" stroke-width="1.7"/>
<line x1="522" y1="515.7" x2="522" y2="511.5" stroke="#111" stroke-width="1.1"/>
<text class="fs" x="537.6" y="500.9" font-size="12.5">Low PHGDH</text>
<text class="fs" x="537.6" y="519" font-size="12.5">High PHGDH</text>
</svg></body></html>
